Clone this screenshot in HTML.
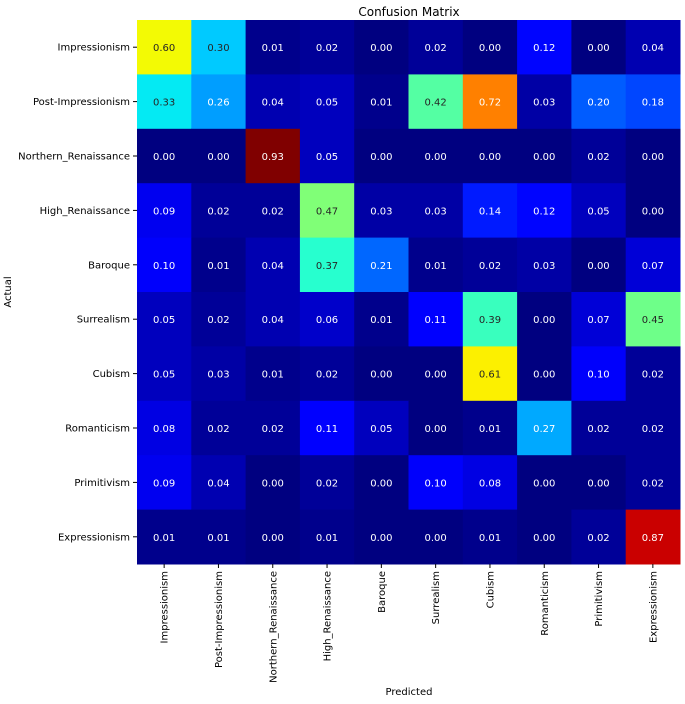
<!DOCTYPE html>
<html><head><meta charset="utf-8"><style>
body{margin:0;background:#fff;}
svg{display:block;font-family:"DejaVu Sans","Liberation Sans",sans-serif;}
</style></head><body>
<svg id="chart" width="685" height="704">
<text x="409" y="16" font-size="12" text-anchor="middle" fill="#000">Confusion Matrix</text>
<text x="409" y="695" font-size="10" text-anchor="middle" fill="#000">Predicted</text>
<text transform="translate(11,292) rotate(-90)" font-size="10" text-anchor="middle" fill="#000">Actual</text>
<g id="cells"></g><g id="ticks"></g>
</svg>
<script>
const categories=["Impressionism","Post-Impressionism","Northern_Renaissance","High_Renaissance","Baroque","Surrealism","Cubism","Romanticism","Primitivism","Expressionism"];
const row0=[0.60,0.30,0.01,0.02,0.00,0.02,0.00,0.12,0.00,0.04];
const row1=[0.33,0.26,0.04,0.05,0.01,0.42,0.72,0.03,0.20,0.18];
const row2=[0.00,0.00,0.93,0.05,0.00,0.00,0.00,0.00,0.02,0.00];
const row3=[0.09,0.02,0.02,0.47,0.03,0.03,0.14,0.12,0.05,0.00];
const row4=[0.10,0.01,0.04,0.37,0.21,0.01,0.02,0.03,0.00,0.07];
const row5=[0.05,0.02,0.04,0.06,0.01,0.11,0.39,0.00,0.07,0.45];
const row6=[0.05,0.03,0.01,0.02,0.00,0.00,0.61,0.00,0.10,0.02];
const row7=[0.08,0.02,0.02,0.11,0.05,0.00,0.01,0.27,0.02,0.02];
const row8=[0.09,0.04,0.00,0.02,0.00,0.10,0.08,0.00,0.00,0.02];
const row9=[0.01,0.01,0.00,0.01,0.00,0.00,0.01,0.00,0.02,0.87];
const matrix=[row0,row1,row2,row3,row4,row5,row6,row7,row8,row9];

const X0=137,X1=680,Y0=20,Y1=564;
const n=categories.length;
const cw=(X1-X0)/n,ch=(Y1-Y0)/n;
const xPos=i=>X0+i*cw, yPos=i=>Y0+i*ch;
function interp(pts,t){for(let k=1;k<pts.length;k++){if(t<=pts[k][0]){const a=pts[k-1],b=pts[k];return a[1]+(b[1]-a[1])*(t-a[0])/(b[0]-a[0]);}}return pts[pts.length-1][1];}
function jet(t){t=Math.max(0,Math.min(1,t));
const r=interp([[0,0],[0.35,0],[0.66,1],[0.89,1],[1,0.5]],t);
const g=interp([[0,0],[0.125,0],[0.375,1],[0.64,1],[0.91,0],[1,0]],t);
const b=interp([[0,0.5],[0.11,1],[0.34,1],[0.65,0],[1,0]],t);
return [r,g,b];}
function lum(c){const f=v=>v<=0.03928?v/12.92:Math.pow((v+0.055)/1.055,2.4);return 0.2126*f(c[0])+0.7152*f(c[1])+0.0722*f(c[2]);}
const all=matrix.flat();const vmin=Math.min(...all),vmax=Math.max(...all);
const NS="http://www.w3.org/2000/svg";
const cells=document.getElementById('cells'),ticks=document.getElementById('ticks');
matrix.forEach((row,i)=>row.forEach((v,j)=>{
 const c=jet((v-vmin)/(vmax-vmin));
 const r=document.createElementNS(NS,'rect');
 r.setAttribute('x',xPos(j));r.setAttribute('y',yPos(i));r.setAttribute('width',cw+0.5);r.setAttribute('height',ch+0.5);
 r.setAttribute('fill',`rgb(${c.map(x=>Math.round(x*255)).join(',')})`);
 
 
 cells.appendChild(r);
 const t=document.createElementNS(NS,'text');
 t.setAttribute('x',xPos(j)+cw/2);t.setAttribute('y',yPos(i)+ch/2+4);
 t.setAttribute('font-size','10');t.setAttribute('text-anchor','middle');
 t.setAttribute('fill',lum(c)>0.408?'#262626':'#ffffff');
 t.textContent=v.toFixed(2);
 
 
 cells.appendChild(t);
}));
categories.forEach((c,i)=>{
 const y=yPos(i)+ch/2;
 const l=document.createElementNS(NS,'line');
 l.setAttribute('x1',X0-4);l.setAttribute('x2',X0);l.setAttribute('y1',y);l.setAttribute('y2',y);l.setAttribute('stroke','#000');
 
 
 ticks.appendChild(l);
 const t=document.createElementNS(NS,'text');
 t.setAttribute('x',X0-7);t.setAttribute('y',y+3.5);t.setAttribute('font-size','10');t.setAttribute('text-anchor','end');
 t.textContent=c;
 
 
 ticks.appendChild(t);
 const x=xPos(i)+cw/2;
 const l2=document.createElementNS(NS,'line');
 l2.setAttribute('x1',x);l2.setAttribute('x2',x);l2.setAttribute('y1',Y1);l2.setAttribute('y2',Y1+4);l2.setAttribute('stroke','#000');
 
 
 ticks.appendChild(l2);
 const t2=document.createElementNS(NS,'text');
 t2.setAttribute('transform',`translate(${x+3.5},${Y1+7}) rotate(-90)`);
 t2.setAttribute('font-size','10');t2.setAttribute('text-anchor','end');
 t2.textContent=c;
 
 
 ticks.appendChild(t2);
});
</script>
</body></html>
